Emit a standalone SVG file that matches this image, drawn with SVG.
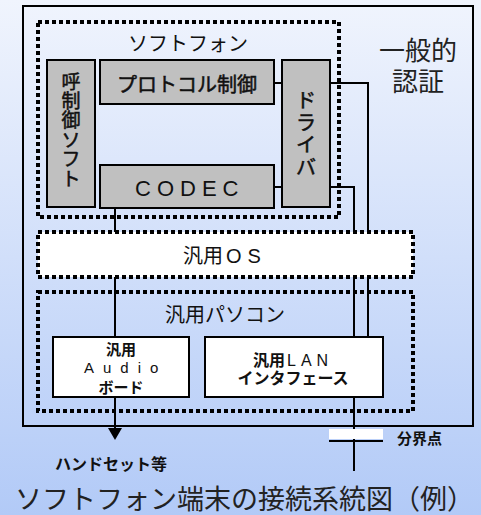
<svg xmlns="http://www.w3.org/2000/svg" width="481" height="515" viewBox="0 0 481 515">
<defs>
<linearGradient id="bg" x1="0" y1="0" x2="0" y2="1">
<stop offset="0" stop-color="#f0f4fd"/>
<stop offset="1" stop-color="#b2caf7"/>
</linearGradient>
</defs>
<style>
.jp{font-family:"Liberation Sans","Noto Sans CJK JP",sans-serif;fill:#111}
.b{font-weight:bold}
.m{stroke:#111;stroke-width:0.5}
.gray{fill:#c0c0c0;stroke:#000;stroke-width:2}
.white{fill:#fff;stroke:#000;stroke-width:2}
.dot{fill:none;stroke:#000;stroke-width:4;stroke-dasharray:4 3}
.ln{fill:none;stroke:#000;stroke-width:2}
</style>
<rect x="0" y="0" width="481" height="515" fill="url(#bg)"/>
<rect x="23" y="6" width="450" height="420" fill="none" stroke="#000" stroke-width="2"/>
<g id="connectors">
<path class="ln" d="M274 83 H282"/>
<path class="ln" d="M330 83 H368 V337"/>
<path class="ln" d="M274 187 H282"/>
<path class="ln" d="M330 187 H354 V337"/>
<path class="ln" d="M354 397 V471"/>
<path class="ln" d="M115 208 V337"/>
<path class="ln" d="M115 397 V429"/>
<path d="M108 428 L122 428 L115 440 Z" fill="#000"/>
</g>
<g id="softphone">
<rect class="dot" x="38" y="22" width="301" height="195"/>
<text class="jp" x="188" y="51" font-size="20" text-anchor="middle">ソフトフォン</text>
</g>
<g id="call-control">
<rect class="gray" x="47" y="60" width="48" height="147"/>
<text class="jp m" font-size="19" text-anchor="middle"><tspan x="71" y="89">呼</tspan><tspan x="71" y="108">制</tspan><tspan x="71" y="127">御</tspan><tspan x="71" y="147">ソ</tspan><tspan x="71" y="166">フ</tspan><tspan x="71" y="186">ト</tspan></text>
</g>
<g id="protocol">
<rect class="gray" x="100" y="60" width="174" height="44"/>
<text class="jp m" x="187" y="92" font-size="20" text-anchor="middle">プロトコル制御</text>
</g>
<g id="codec">
<rect class="gray" x="100" y="165" width="174" height="43"/>
<text class="jp" x="135" y="196" font-size="22" letter-spacing="6">CODEC</text>
</g>
<g id="driver">
<rect class="gray" x="282" y="60" width="48" height="147"/>
<text class="jp m" font-size="20" text-anchor="middle"><tspan x="306" y="108">ド</tspan><tspan x="306" y="130">ラ</tspan><tspan x="306" y="152">イ</tspan><tspan x="306" y="175">バ</tspan></text>
</g>
<g id="auth">
<text class="jp" font-size="26" text-anchor="middle" style="fill:#222"><tspan x="418" y="60">一般的</tspan><tspan x="418" y="91">認証</tspan></text>
</g>
<g id="os">
<rect class="dot" x="38" y="232" width="375" height="45" style="fill:#fff"/>
<text class="jp" x="183" y="263" font-size="20">汎用<tspan letter-spacing="6" dx="3">OS</tspan></text>
</g>
<g id="pc">
<rect class="dot" x="38" y="292" width="375" height="119"/>
<text class="jp" x="225" y="322" font-size="20" text-anchor="middle">汎用パソコン</text>
</g>
<g id="audio">
<rect class="white" x="53" y="337" width="136" height="60"/>
<text class="jp b" x="121" y="355" font-size="15" text-anchor="middle">汎用</text>
<text class="jp" x="84" y="373" font-size="15" letter-spacing="9">Audio</text>
<text class="jp b" x="121" y="393" font-size="15" text-anchor="middle">ボード</text>
</g>
<g id="lan">
<rect class="white" x="205" y="337" width="178" height="60"/>
<text class="jp" x="253" y="366" font-size="16"><tspan class="b">汎用</tspan><tspan letter-spacing="5" dx="2">LAN</tspan></text>
<text class="jp b" x="293" y="384" font-size="16" text-anchor="middle">インタフェース</text>
</g>
<g id="demarcation">
<rect x="329" y="429" width="54" height="10" fill="#fff"/>
<path class="ln" d="M329 441 H383"/>
<path class="ln" d="M354 441 V471"/>
<text class="jp b" x="397" y="444" font-size="15">分界点</text>
</g>
<g id="handset">
<text class="jp b" x="55" y="470" font-size="16">ハンドセット等</text>
</g>
<text class="jp" x="15" y="509" font-size="27" style="fill:#222">ソフトフォン端末の接続系統図（例）</text>
</svg>
